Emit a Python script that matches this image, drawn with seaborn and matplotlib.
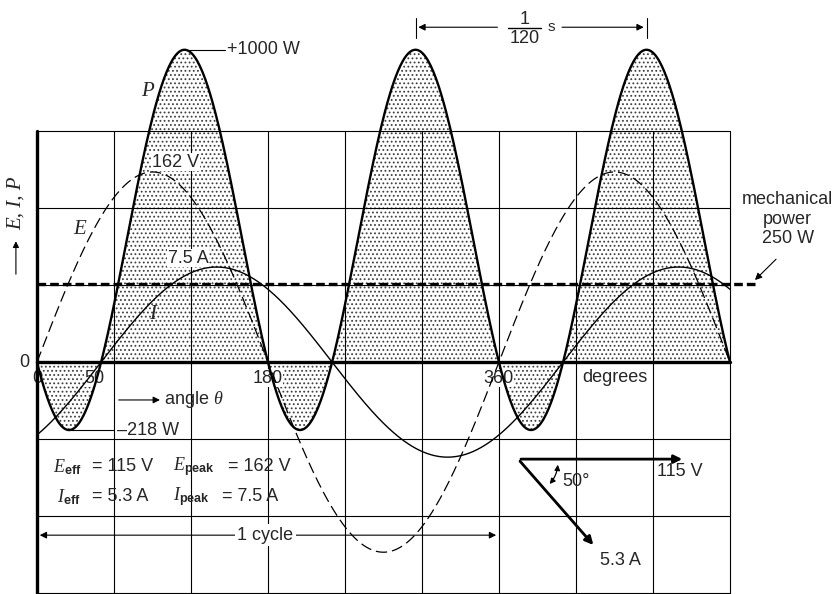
import numpy as np
import pandas as pd
import matplotlib
matplotlib.use('Agg')
import matplotlib.pyplot as plt
import seaborn as sns

# 数据: 电压/电流/功率
theta = np.arange(0, 541, 1)          # degrees
E_peak = 162                          # V
I_peak = 7.5                          # A
E_eff = 115                           # V
I_eff = 5.3                           # A
phase = 50                            # degrees, current lags
mech_power = 250                      # W
P_max_label = '+1000 W'
P_min_label = '\u2013218 W'
x_ticks = [0, 50, 180, 360]

# 显示比例 (E、I 按图上高度缩放)
e_scale = 3.75
i_scale = 40.5
grid_w = 246

sns.set_style('white')
plt.rcParams['font.family'] = ['Liberation Sans', 'DejaVu Sans']
plt.rcParams['mathtext.fontset'] = 'custom'
plt.rcParams['mathtext.it'] = 'Liberation Serif:italic'
plt.rcParams['mathtext.rm'] = 'Liberation Sans'
plt.rcParams['mathtext.bf'] = 'Liberation Sans:bold'
plt.rcParams['hatch.linewidth'] = 0.8

rad = np.deg2rad(theta)
E = E_peak * np.sin(rad)
I = I_peak * np.sin(rad - np.deg2rad(phase))
P = E * I
df = pd.DataFrame({'theta': theta, 'E': E * e_scale, 'I': I * i_scale, 'P': P})

fig = plt.figure(figsize=(8.39, 5.94), dpi=100)
ax = fig.add_axes([0, 0, 1, 1])
ax.set_xlim(-28.8, 625)
ax.set_ylim(-741, 1157)
ax.axis('off')

# 阴影区域
ax.fill_between(df['theta'], df['P'], 0, facecolor='white', hatch='....',
                edgecolor='#404040', linewidth=0, zorder=1)

# 网格
top = 3 * grid_w
for xv in range(0, 541, 60):
    ax.plot([xv, xv], [-800, top], color='black', lw=0.8, zorder=2)
for k in range(-3, 4):
    if k != 0:
        ax.plot([0, 540], [k * grid_w] * 2, color='black', lw=0.8, zorder=2)
ax.plot([0, 0], [-800, top], color='black', lw=2.4, zorder=5)
ax.plot([0, 540], [0, 0], color='black', lw=2.4, zorder=5)

# 曲线
sns.lineplot(data=df, x='theta', y='P', ax=ax, color='black', lw=1.7, zorder=4)
sns.lineplot(data=df, x='theta', y='E', ax=ax, color='black', lw=0.9,
             dashes=False, zorder=4).lines[-1].set_dashes([9, 4])
sns.lineplot(data=df, x='theta', y='I', ax=ax, color='black', lw=1.0, zorder=4)

# 机械功率
ax.plot([0, 562], [mech_power, mech_power], color='black', lw=2.4,
        dashes=(2.6, 1.2), zorder=6)

fs = 13
serif_it = {'family': 'Liberation Serif', 'style': 'italic', 'size': 15}

# 峰值标注
ax.plot([115, 146.5], [P.max(), P.max()], color='black', lw=0.8)
ax.text(148, P.max(), P_max_label, fontsize=fs, va='center', ha='left')
ax.plot([23.4, 60], [P.min(), P.min()], color='black', lw=0.8)
ax.text(62, P.min(), P_min_label, fontsize=fs, va='center', ha='left')

ax.text(86, 866, 'P', fontdict=serif_it, ha='center', va='center')
ax.text(33.5, 425, 'E', fontdict=serif_it, ha='center', va='center')
ax.text(90, 153, 'I', fontdict=serif_it, ha='center', va='center')
ax.text(108, 639, '%d V' % E_peak, fontsize=fs, ha='center', va='center',
        bbox=dict(facecolor='white', edgecolor='none', pad=0.5), zorder=3)
ax.text(118, 332, '%.1f A' % I_peak, fontsize=fs, ha='center', va='center',
        bbox=dict(facecolor='white', edgecolor='none', pad=0.5), zorder=3)

# 坐标轴文字
ax.text(-10, 0, '0', fontsize=fs, ha='center', va='center')
tick_pos = {0: 0, 50: 45, 180: 180, 360: 360}
for t in x_ticks:
    ax.text(tick_pos[t], -51, str(t), fontsize=fs, ha='center', va='center',
            bbox=dict(facecolor='white', edgecolor='none', pad=0.3), zorder=3)
ax.text(450, -48, 'degrees', fontsize=fs, ha='center', va='center')
ax.annotate('', xy=(98, -121), xytext=(61.5, -121),
            arrowprops=dict(arrowstyle='-|>', color='black', lw=0.8,
                            mutation_scale=10))
ax.text(99, -121, r'angle $\mathit{\theta}$', fontsize=fs, ha='left', va='center')

# 纵轴标签
ax.annotate('', xy=(-16.4, 395), xytext=(-16.4, 272),
            arrowprops=dict(arrowstyle='-|>', color='black', lw=0.8,
                            mutation_scale=9))
ax.text(-16.4, 508, 'E, I, P', fontdict=serif_it, rotation=90,
        ha='center', va='center')

# 有效值/峰值
row1, row2 = -335, -431
ax.text(12.5, row1, r'$\mathit{E}_{\mathbf{eff}}$', fontsize=fs, ha='left', va='center')
ax.text(42.9, row1, '= %d V' % E_eff, fontsize=fs, ha='left', va='center')
ax.text(106, row1, r'$\mathit{E}_{\mathbf{peak}}$', fontsize=fs, ha='left', va='center')
ax.text(149, row1, '= %d V' % E_peak, fontsize=fs, ha='left', va='center')
ax.text(15.6, row2, r'$\mathit{I}_{\mathbf{eff}}$', fontsize=fs, ha='left', va='center')
ax.text(42.9, row2, '= %.1f A' % I_eff, fontsize=fs, ha='left', va='center')
ax.text(106, row2, r'$\mathit{I}_{\mathbf{peak}}$', fontsize=fs, ha='left', va='center')
ax.text(144, row2, '= %.1f A' % I_peak, fontsize=fs, ha='left', va='center')

# 1 cycle
ax.annotate('', xy=(0, -553), xytext=(170, -553),
            arrowprops=dict(arrowstyle='-|>', color='black', lw=0.8, mutation_scale=10))
ax.annotate('', xy=(360, -553), xytext=(190, -553),
            arrowprops=dict(arrowstyle='-|>', color='black', lw=0.8, mutation_scale=10))
ax.text(178, -553, '1 cycle', fontsize=fs, ha='center', va='center',
        bbox=dict(facecolor='white', edgecolor='none', pad=1.5), zorder=7)

# 相量图
ax.annotate('', xy=(505, -310), xytext=(375, -310),
            arrowprops=dict(arrowstyle='-|>', color='black', lw=2.0, mutation_scale=12))
ax.annotate('', xy=(435, -591), xytext=(375, -310),
            arrowprops=dict(arrowstyle='-|>', color='black', lw=2.0, mutation_scale=12))
ax.annotate('', xy=(398, -396), xytext=(406, -319),
            arrowprops=dict(arrowstyle='<|-|>', color='black', lw=0.9,
                            mutation_scale=8, connectionstyle='arc3,rad=-0.2'))
ax.text(501, -351, '%d V' % E_eff, fontsize=fs, ha='center', va='center')
ax.text(455, -633, '%.1f A' % I_eff, fontsize=fs, ha='center', va='center')
ax.text(409, -383, '%d\u00b0' % phase, fontsize=fs, ha='left', va='center')

# 1/120 s
ax.plot([295, 295], [1035, 1099], color='black', lw=0.8)
ax.plot([475, 475], [1035, 1099], color='black', lw=0.8)
ax.annotate('', xy=(295, 1070), xytext=(361, 1070),
            arrowprops=dict(arrowstyle='-|>', color='black', lw=0.8, mutation_scale=10))
ax.annotate('', xy=(475, 1070), xytext=(407, 1070),
            arrowprops=dict(arrowstyle='-|>', color='black', lw=0.8, mutation_scale=10))
ax.text(380, 1096, '1', fontsize=fs, ha='center', va='center')
ax.text(380, 1035, '120', fontsize=fs, ha='center', va='center')
ax.plot([367, 393], [1067, 1067], color='black', lw=1.0)
ax.text(401, 1070, 's', fontsize=11, ha='center', va='center')

# 机械功率标注
ax.text(585, 457, 'mechanical\npower\n%d W' % mech_power, fontsize=fs,
        ha='center', va='center', linespacing=1.2)
ax.annotate('', xy=(558, 256), xytext=(577.5, 335),
            arrowprops=dict(arrowstyle='-|>', color='black', lw=0.8, mutation_scale=10))

fig.savefig('out.png', dpi=100)
